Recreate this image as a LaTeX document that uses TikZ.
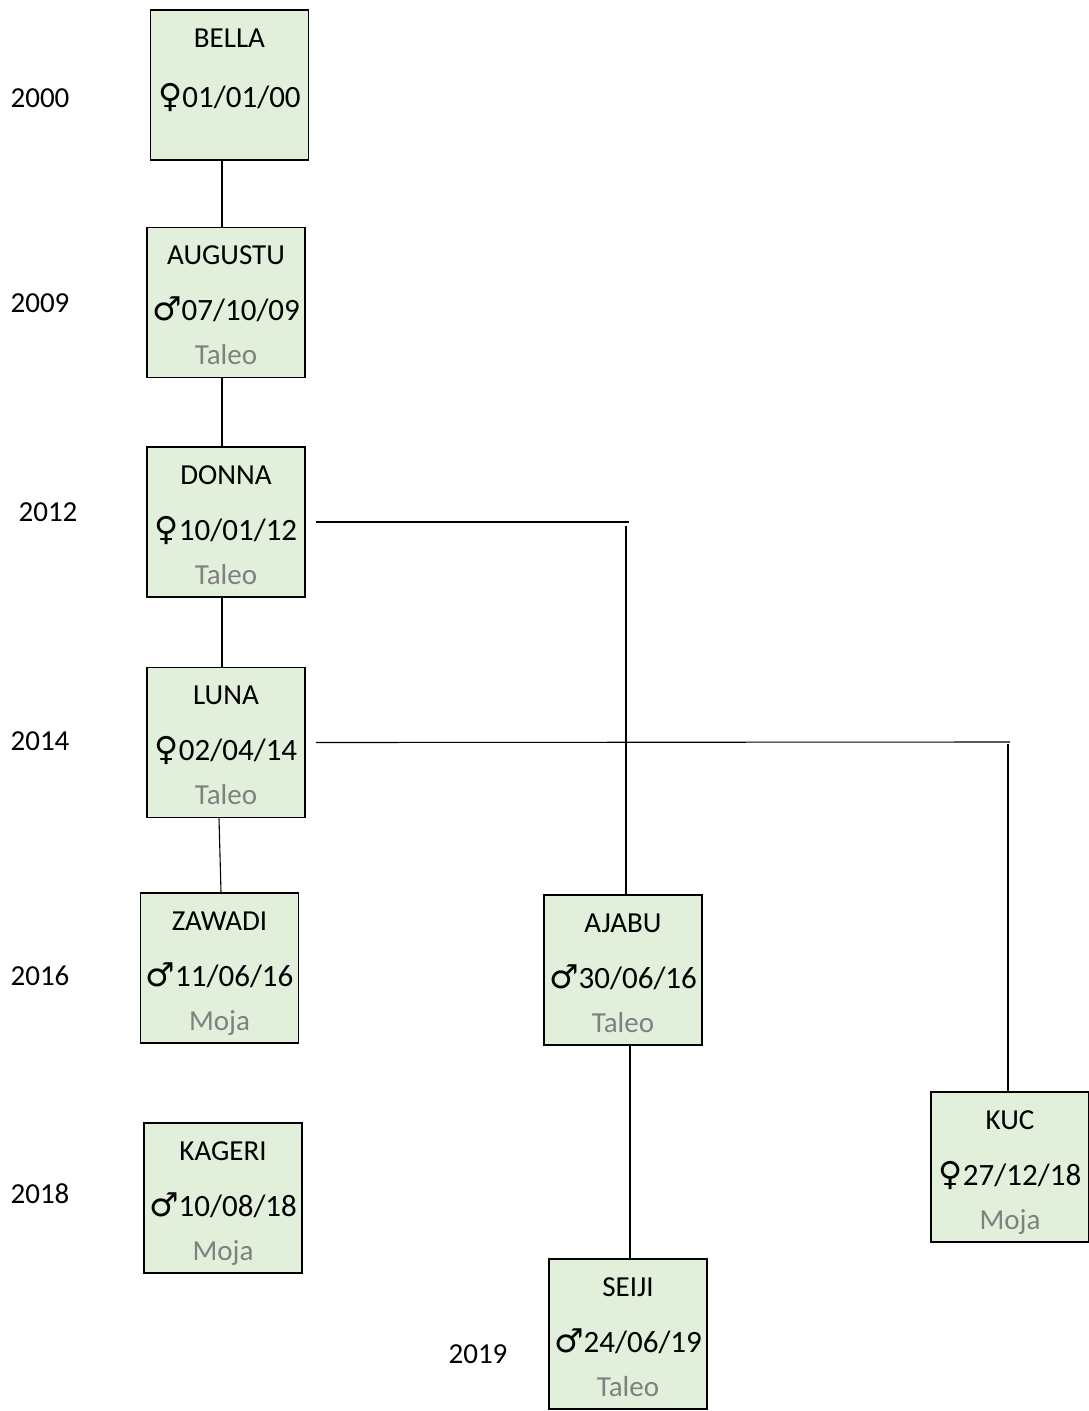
\documentclass[tikz,border=0pt]{standalone}
\usepackage{fontspec}
\setmainfont{Carlito}
\newfontfamily\symfont{DejaVu Sans}
\usepackage{xcolor}
\usepackage{tikz}
\usetikzlibrary{positioning,calc}

\definecolor{boxgreen}{HTML}{E2EFDA}
\definecolor{placegray}{HTML}{808080}
\newcommand{\fem}{{\symfont\fontsize{33}{34}\selectfont\char"2640}}
\newcommand{\mal}{{\symfont\fontsize{33}{34}\selectfont\char"2642}}
\newcommand{\datefont}{\fontsize{31}{34}\selectfont}
\newcommand{\place}[1]{\textcolor{placegray}{#1}}

\begin{document}
\begin{tikzpicture}[x=1pt,y=-1pt,
    animal/.style={draw=black, line width=1.6pt, fill=boxgreen, minimum width=158pt, minimum height=150pt,
        inner sep=0pt, align=center, text height=130pt, text depth=6pt, font=\fontsize{29}{34}\selectfont},
    yearlabel/.style={font=\fontsize{29}{34}\selectfont},
    link/.style={line width=1.1pt}]
    \useasboundingbox (0,0) rectangle (1089,1411);

    % boxes
    \node[animal] (bella) at (229.5,85) {BELLA\\[26pt]{\datefont\fem01/01/00}\\[6pt]\phantom{Taleo}};
    \node[animal] (augustu) at (226,302.5) {AUGUSTU\\[22pt]{\datefont\mal07/10/09}\\[10pt]\place{Taleo}};
    \node[animal] (donna) at (226,522) {DONNA\\[22pt]{\datefont\fem10/01/12}\\[10pt]\place{Taleo}};
    \node[animal] (luna) at (226,742.5) {LUNA\\[22pt]{\datefont\fem02/04/14}\\[10pt]\place{Taleo}};
    \node[animal] (zawadi) at (219.5,968) {ZAWADI\\[22pt]{\datefont\mal11/06/16}\\[10pt]\place{Moja}};
    \node[animal] (ajabu) at (623,970) {AJABU\\[22pt]{\datefont\mal30/06/16}\\[10pt]\place{Taleo}};
    \node[animal] (kageri) at (223,1198) {KAGERI\\[22pt]{\datefont\mal10/08/18}\\[10pt]\place{Moja}};
    \node[animal] (kuc) at (1010,1167) {KUC\\[22pt]{\datefont\fem27/12/18}\\[10pt]\place{Moja}};
    \node[animal] (seiji) at (628,1334) {SEIJI\\[22pt]{\datefont\mal24/06/19}\\[10pt]\place{Taleo}};

    % years
    \node[yearlabel] (y2000) at (40,98) {2000};
    \node[yearlabel] (y2009) at (40,303) {2009};
    \node[yearlabel] (y2012) at (48,512) {2012};
    \node[yearlabel] (y2014) at (40,741) {2014};
    \node[yearlabel] (y2016) at (40,976) {2016};
    \node[yearlabel] (y2018) at (40,1194) {2018};
    \node[yearlabel] (y2019) at (478,1354) {2019};

    % lines
    \draw[link] ([xshift=-7.5pt]bella.south) -- ([xshift=-4pt]augustu.north);
    \draw[link] ([xshift=-4pt]augustu.south) -- ([xshift=-4pt]donna.north);
    \draw[link] ([xshift=-4pt]donna.south) -- ([xshift=-4pt]luna.north);
    \draw[link] ([xshift=-7pt]luna.south) -- ([xshift=1.5pt]zawadi.north);
    \draw[link] ([xshift=7pt]ajabu.south) -- ([xshift=2pt]seiji.north);

    \coordinate (dj) at (629,522);
    \draw[link] ([xshift=10pt]donna.east) -- (dj);
    \draw[link] ([xshift=3pt]ajabu.north) -- ($(ajabu.north)+(3,527-895)$);

    \coordinate (lj) at (1010,742);
    \draw[link] ([xshift=10pt]luna.east) -- (lj);
    \draw[link] ([xshift=-2pt]kuc.north) -- ($(kuc.north)+(-2,742-1089)$);
\end{tikzpicture}
\end{document}
